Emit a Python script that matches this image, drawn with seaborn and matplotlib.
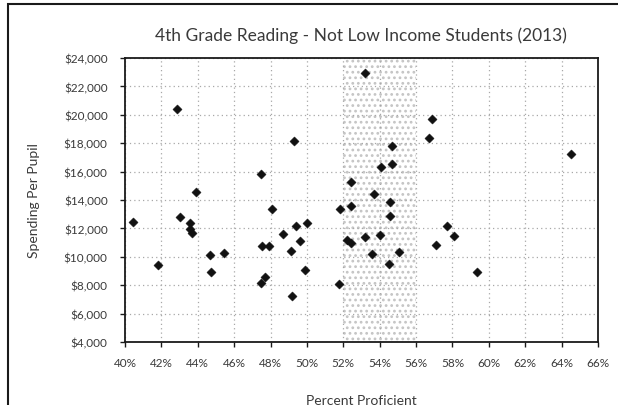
import matplotlib
matplotlib.use("Agg")
import matplotlib.pyplot as plt
from matplotlib.patches import Rectangle
from matplotlib.ticker import FuncFormatter
import pandas as pd
import seaborn as sns

# Percent of non-low-income 4th graders proficient in reading, and per-pupil spending
percent_proficient = [
    40.45, 41.8, 42.85, 43.0, 43.55, 43.6, 43.7, 43.9, 44.65, 44.7, 45.45,
    47.45, 47.55, 47.9, 48.1, 47.5, 47.7, 48.7, 49.4, 49.1, 49.6, 49.2,
    49.3, 50.0, 49.9, 51.75, 51.8, 52.2, 52.4, 52.4, 52.4, 53.2, 53.2,
    53.55, 53.7, 54.0, 54.05, 54.5, 54.55, 54.55, 54.65, 54.65, 55.05,
    56.7, 56.9, 57.1, 57.7, 58.1, 59.35, 64.5,
]
spending_per_pupil = [
    12470, 9440, 20400, 12780, 12380, 11980, 11700, 14540, 10130, 8910, 10270,
    15830, 10780, 10780, 13370, 8150, 8600, 11600, 12150, 10430, 11100, 7260,
    18150, 12400, 9100, 8080, 13370, 11150, 11000, 13600, 15290, 22940, 11370,
    10200, 14420, 11540, 16300, 9490, 13880, 12890, 17820, 16540, 10320,
    18340, 19700, 10830, 12190, 11490, 8950, 17240,
]

y_ticks = list(range(4000, 26000, 2000))
x_ticks = list(range(40, 68, 2))
band_start, band_end = 52, 56

title_text = "4th Grade Reading - Not Low Income Students (2013)"
x_title = "Percent Proficient"
y_title = "Spending Per Pupil"

df = pd.DataFrame({"pct": percent_proficient, "spend": spending_per_pupil})

sns.set_theme(style="white")
plt.rcParams["font.family"] = ["Lato", "DejaVu Sans"]
plt.rcParams["hatch.linewidth"] = 1.2

text_color = "#3a3a3a"
fig = plt.figure(figsize=(6.18, 4.06), dpi=100)
ax = fig.add_axes([125 / 618, 1 - 343 / 406, 473 / 618, 284 / 406])

# stippled band between the two highlighted percentages
ax.axvspan(band_start, band_end, facecolor="none", edgecolor="#c4c4c4",
           hatch="...", linewidth=0, zorder=0)

sns.scatterplot(data=df, x="pct", y="spend", ax=ax, marker="D", s=22,
                color="#111111", edgecolor="#111111", linewidth=0.3, zorder=3)

ax.set_xlim(40, 66)
ax.set_ylim(4000, 24000)
ax.set_xticks(x_ticks)
ax.set_yticks(y_ticks)
ax.xaxis.set_major_formatter(FuncFormatter(lambda v, _: f"{v:.0f}%"))
ax.yaxis.set_major_formatter(FuncFormatter(lambda v, _: f"${v:,.0f}"))

ax.grid(True, which="major", linestyle=(0, (1, 2.5)), color="#a8a8a8", linewidth=0.9)
ax.set_axisbelow(True)

for side in ["left", "right", "top", "bottom"]:
    ax.spines[side].set_visible(True)
    ax.spines[side].set_color("#1a1a1a")
    ax.spines[side].set_linewidth(1.3)

ax.tick_params(axis="both", which="major", direction="out", length=3.5,
               width=1.0, color="#1a1a1a", labelsize=8.5, labelcolor=text_color,
               bottom=True, left=True)
ax.tick_params(axis="y", pad=9)
ax.tick_params(axis="x", pad=7)

ax.set_xlabel(x_title, fontsize=10, color=text_color)
ax.set_ylabel(y_title, fontsize=10, color=text_color)
ax.xaxis.set_label_coords(0.5, -0.183)
ax.yaxis.set_label_coords(-0.18, 0.5)

fig.text(361 / 618, 1 - 36 / 406, title_text, ha="center", va="center",
         fontsize=12.5, color=text_color)

# outer chart frame
fig.patches.append(Rectangle((8 / 618, -0.2), 1.2, 1.2 - 5 / 406,
                             transform=fig.transFigure, fill=False,
                             edgecolor="#1a1a1a", linewidth=1.5))

fig.savefig("out.png", dpi=100)
